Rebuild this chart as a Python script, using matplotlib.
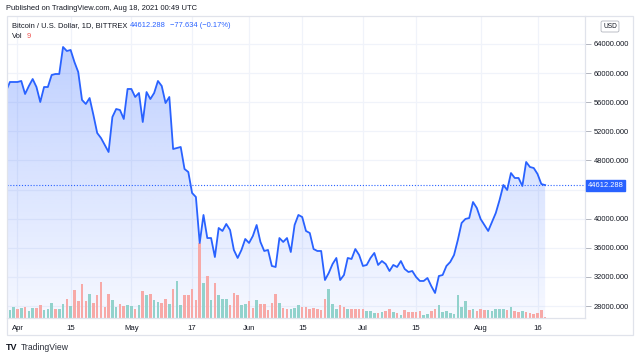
import matplotlib
matplotlib.use("Agg")
import matplotlib.pyplot as plt
import matplotlib.dates as mdates
import numpy as np
import pandas as pd
from matplotlib.patches import Rectangle

# ---------------- data ----------------
start_date = "2021-03-29"
close = [57540, 58780, 58780, 58780, 58920, 57130, 58230, 59190, 58090, 56030,
         58090, 58090, 59740, 59880, 59880, 63590, 63040, 63180, 61530, 60150,
         56310, 55760, 56580, 54250, 51770, 51080, 50120, 49160, 53970, 55070,
         54930, 53700, 57820, 57820, 56720, 57270, 53280, 57400, 56440, 57270,
         58920, 58230, 55890, 56720, 49570, 49710, 49850, 46830, 46410, 43530,
         42980, 36660, 40510, 37340, 37340, 34730, 38720, 38310, 39270, 38440,
         35700, 34600, 35700, 37210, 36660, 37620, 39130, 36800, 35560, 35700,
         33500, 33360, 37340, 36800, 37340, 35420, 39130, 40510, 40230, 38310,
         38030, 35830, 35560, 35560, 31570, 32540, 33770, 34600, 31570, 32260,
         34600, 34460, 35830, 35010, 33500, 33640, 34600, 35290, 33640, 34180,
         33770, 32810, 33640, 33360, 34180, 33090, 32670, 32810, 31990, 31440,
         31440, 31850, 30750, 29790, 32120, 32260, 33500, 34050, 35010, 37070,
         39410, 39960, 40090, 42290, 41470, 39960, 39130, 38310, 39540, 40780,
         42570, 44630, 43940, 46270, 45590, 45590, 44490, 47790, 47100, 46960,
         46140, 44760, 44612.288]

volume = [1170, 770, 1100, 940, 970, 1070, 700, 970, 1040, 1270,
          770, 870, 1540, 870, 870, 1440, 1870, 1170, 2770, 1700,
          3370, 1670, 2370, 1540, 2270, 3600, 1100, 2370, 1770, 1100,
          1370, 1170, 1270, 1170, 940, 1270, 2670, 2340, 2370, 1770,
          1600, 1540, 1870, 1370, 2870, 3700, 1270, 2270, 2270, 2870,
          1770, 7500, 3500, 4170, 1770, 3500, 2270, 1940, 1940, 1270,
          2500, 2270, 1270, 1370, 1670, 1000, 1770, 1440, 1440, 840,
          1540, 2440, 1540, 1040, 870, 870, 1000, 1270, 1100, 1100,
          940, 1040, 870, 840, 1940, 2870, 1440, 940, 1270, 1100,
          940, 940, 940, 870, 870, 700, 670, 540, 540, 600,
          700, 940, 600, 540, 340, 840, 600, 600, 600, 700,
          340, 440, 670, 870, 1270, 600, 670, 540, 440, 2270,
          1100, 1670, 770, 940, 670, 940, 770, 770, 700, 940,
          940, 940, 770, 1100, 700, 600, 670, 600, 540, 440,
          540, 770, 70]

# u = up day (green volume), d = down day (red volume)
vol_dir = ("uuududuudd" "uuuduududd" "dduddddduu" "dduudududu" "udduduuddd"
           "ddududuuud" "dduudduddd" "ddudduuudd" "ddddduuudd" "udddduuudu"
           "ddududdddd" "uudduuuuuu" "uududdduuu" "uududduddd" "ddd")

price_ticks = [28000, 32000, 36000, 40000, 44000, 48000, 52000, 56000, 60000, 64000]
date_ticks = ["2021-04-01", "2021-04-15", "2021-05-01", "2021-05-17", "2021-06-01",
              "2021-06-15", "2021-07-01", "2021-07-15", "2021-08-01", "2021-08-16"]
date_labels = ["Apr", "15", "May", "17", "Jun", "15", "Jul", "15", "Aug", "16"]

dates = pd.date_range(start_date, periods=len(close), freq="D")

# ---------------- figure ----------------
W, H = 640, 358
plt.rcParams["font.family"] = ["Liberation Sans", "DejaVu Sans"]
fig = plt.figure(figsize=(W / 100, H / 100), dpi=100)
fig.patch.set_facecolor("white")


def fx(px):
    return px / W


def fy(py):
    return 1 - py / H


L, R, T, B = 6.5, 585.0, 16.0, 318.0
ax = fig.add_axes([fx(L), fy(B), fx(R - L), (B - T) / H])

x = mdates.date2num(dates)
x0 = x[0]
px_per_day = 3.796
xlim = (x0 + (L - 6.1) / px_per_day, x0 + (R - 6.1) / px_per_day)
ppk = 7.278 / 1000.0
ylim = (64000 - (B - 44) / ppk, 64000 + (44 - T) / ppk)

line_c = "#2962ff"
grid_c = "#f0f3fa"

# grid
for p in price_ticks:
    ax.axhline(p, color=grid_c, lw=0.9, zorder=0)
for d in date_ticks:
    ax.axvline(mdates.datestr2num(d), color=grid_c, lw=0.9, zorder=0)

# gradient area fill
poly = ax.fill_between(x, close, ylim[0], color="none", lw=0)
grad = np.linspace(0.04, 0.30, 256).reshape(-1, 1)
img = np.zeros((256, 1, 4))
img[..., 0] = 41 / 255
img[..., 1] = 98 / 255
img[..., 2] = 1.0
img[..., 3] = grad
top_price = max(close)
im = ax.imshow(img, extent=[x[0], x[-1], ylim[0], top_price], origin="lower",
               aspect="auto", zorder=1, interpolation="bilinear")
im.set_clip_path(poly.get_paths()[0], transform=ax.transData)

# volume bars (scaled into the lower part of the price pane)
up_c = "#92d2cc"
dn_c = "#f7a9a7"
cols = [up_c if c == "u" else dn_c for c in vol_dir]
vol_scale = (ylim[1] - ylim[0]) / ((B - T) * 100)
ax.bar(x, np.array(volume) * vol_scale, bottom=ylim[0], width=0.68, color=cols,
       zorder=2, lw=0)

# price line
ax.plot(x, close, color=line_c, lw=1.3, zorder=4)
ax.axhline(close[-1], color=line_c, lw=0.8, ls=(0, (1, 1.6)), zorder=3)

ax.set_xlim(*xlim)
ax.set_ylim(*ylim)

# axes styling
for s in ["top", "left"]:
    ax.spines[s].set_visible(False)
for s in ["right", "bottom"]:
    ax.spines[s].set_color("#e0e3eb")
    ax.spines[s].set_linewidth(0.9)
ax.yaxis.tick_right()
ax.set_yticks(price_ticks)
# the 44000 label sits under the current-price tag
ax.set_yticklabels(["" if p == 44000 else f"{p:.3f}" for p in price_ticks])
ax.tick_params(axis="y", length=4, width=0.7, color="#b2b5be", pad=2,
               labelsize=5.4, labelcolor="#131722")
ax.set_xticks([mdates.datestr2num(d) for d in date_ticks])
ax.set_xticklabels(date_labels)
ax.tick_params(axis="x", length=0, pad=5.0, labelsize=5.6, labelcolor="#131722")

# outer frame
frame = Rectangle((fx(L), fy(335)), fx(633 - L), (335 - T) / H, transform=fig.transFigure,
                  fill=False, ec="#e0e3eb", lw=0.9)
fig.patches.append(frame)

# current price tag
fig.text(fx(587.5), fy(185.5), f"{close[-1]:.3f}", color="white", fontsize=5.4,
         va="center", ha="left",
         bbox=dict(boxstyle="square,pad=0.25", fc=line_c, ec=line_c))

# USD box
fig.text(fx(610), fy(26.5), "USD", fontsize=4.8, color="#131722", ha="center", va="center",
         bbox=dict(boxstyle="round,pad=0.3,rounding_size=0.25", fc="white", ec="#b2b5be", lw=0.6))

# header texts
fig.text(fx(6.5), fy(8), "Published on TradingView.com, Aug 18, 2021 00:49 UTC",
         fontsize=5.4, color="#131722", va="center", ha="left")
fig.text(fx(11.5), fy(25.5), "Bitcoin / U.S. Dollar, 1D, BITTREX", fontsize=5.4,
         color="#131722", va="center", ha="left")
fig.text(fx(130), fy(25.5), "44612.288", fontsize=5.4, color=line_c, va="center", ha="left")
fig.text(fx(170), fy(25.5), "\u221277.634 (\u22120.17%)", fontsize=5.4, color=line_c,
         va="center", ha="left")
fig.text(fx(11.5), fy(36.5), "Vol", fontsize=5.4, color="#131722", va="center", ha="left")
fig.text(fx(26.5), fy(36.5), "9", fontsize=5.4, color="#ef5350", va="center", ha="left")

# footer logo
fig.text(fx(6), fy(347.5), "TV", fontsize=6.5, color="#131722", weight="heavy",
         va="center", ha="left")
fig.text(fx(21), fy(347.5), "TradingView", fontsize=6.2, color="#2a2e39",
         va="center", ha="left")

fig.savefig("out.png", dpi=100, facecolor="white")
